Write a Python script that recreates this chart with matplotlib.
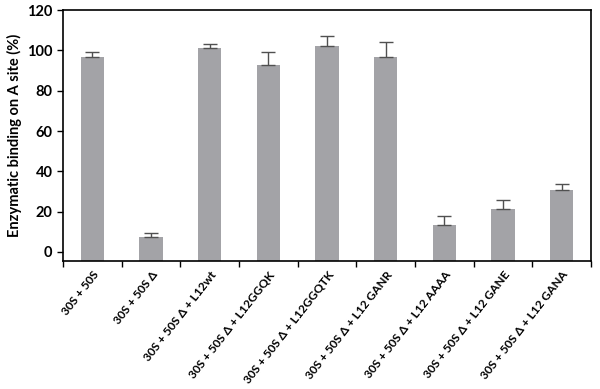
import matplotlib
matplotlib.use("Agg")
import matplotlib.pyplot as plt
import numpy as np

categories = ["30S + 50S", "30S + 50S Δ", "30S + 50S Δ + L12wt", "30S + 50S Δ + L12GGQK",
              "30S + 50S Δ + L12GGQTK", "30S + 50S Δ + L12 GANR", "30S + 50S Δ + L12 AAAA",
              "30S + 50S Δ + L12 GANE", "30S + 50S Δ + L12 GANA"]
values = [96.7, 7.2, 101.0, 92.7, 102.1, 96.7, 13.3, 21.2, 30.5]
errors = [2.3, 2.1, 2.3, 6.7, 5.2, 7.5, 4.3, 4.4, 3.3]
yticks = [0, 20, 40, 60, 80, 100, 120]

plt.rcParams['font.family'] = ['Lato', 'DejaVu Sans']
fig = plt.figure(figsize=(6, 3.89), dpi=100)
ax = fig.add_axes([0.105, 0.329, 0.88, 0.645])

ymin = -4.5
x = np.arange(len(categories))
bottoms = [ymin] * len(values)
heights = [v - ymin for v in values]
ax.bar(x, heights, bottom=bottoms, width=0.4, color='#a3a3a7', zorder=2)
ax.errorbar(x, values, yerr=[[0] * len(errors), errors], fmt='none', ecolor='#505050',
            elinewidth=1.0, capsize=5, capthick=1.0, zorder=3)

ax.set_xlim(-0.5, len(categories) - 0.5)
ax.set_ylim(ymin, 120)
ax.set_yticks(yticks)
ax.set_yticklabels([str(t) for t in yticks], fontsize=10.5, fontweight='bold')
ax.set_xticks(x)
ax.set_xticklabels(categories, rotation=52, ha='right', rotation_mode='anchor',
                   fontsize=8.6, fontweight='bold')
ax.tick_params(axis='x', length=0, pad=6)
ax.set_xticks(np.arange(len(categories) + 1) - 0.5, minor=True)
ax.tick_params(axis='x', which='minor', length=4, width=1, direction='out')
ax.tick_params(axis='y', length=4, width=1, direction='out')
for s in ax.spines.values():
    s.set_linewidth(1.2)
    s.set_color('black')
ax.set_ylabel("Enzymatic binding on A site (%)", fontsize=10.5, fontweight='bold', labelpad=4)

fig.savefig("out.png", dpi=100)
